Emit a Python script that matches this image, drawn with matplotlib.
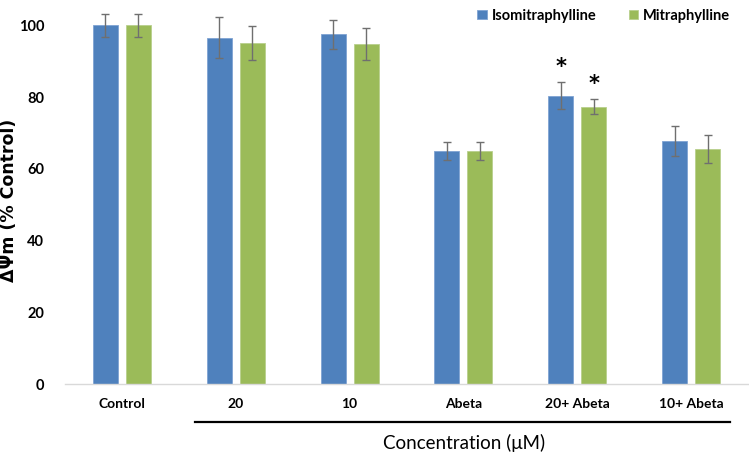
import matplotlib
matplotlib.use("Agg")
import matplotlib.pyplot as plt
import numpy as np

plt.rcParams['font.family'] = ['Lato', 'DejaVu Sans']

categories = ['Control', '20', '10', 'Abeta', '20+ Abeta', '10+ Abeta']
iso = [100, 96.6, 97.5, 64.9, 80.4, 67.8]
iso_err = [3.1, 5.7, 4.0, 2.5, 3.7, 4.2]
mit = [100, 95.1, 94.8, 64.9, 77.3, 65.5]
mit_err = [3.2, 4.8, 4.5, 2.5, 2.1, 3.9]
# groups marked significant (index of category)
star_iso = [4]
star_mit = [4]

blue = '#4f81bd'
green = '#9bbb59'

fig = plt.figure(figsize=(7.49, 4.54), dpi=100)
ax = fig.add_axes([65 / 749, 70 / 454, 683 / 749, 384 / 454])

x = np.arange(len(categories))
w = 0.22
off = 0.145
err_kw = dict(ecolor='#6f6f6f', elinewidth=1.0, capsize=3, capthick=1.0)
ax.bar(x - off, iso, w, color=blue, edgecolor='#7fa3d3', linewidth=0.6,
       yerr=iso_err, error_kw=err_kw, label='Isomitraphylline')
ax.bar(x + off, mit, w, color=green, edgecolor='#b8d08c', linewidth=0.6,
       yerr=mit_err, error_kw=err_kw, label='Mitraphylline')

for i in star_iso:
    ax.text(i - off, iso[i] + iso_err[i] + 1.6, '*', ha='center', va='bottom',
            fontsize=15, fontweight='bold', family='DejaVu Sans')
for i in star_mit:
    ax.text(i + off, mit[i] + mit_err[i] + 1.6, '*', ha='center', va='bottom',
            fontsize=15, fontweight='bold', family='DejaVu Sans')

ax.set_xlim(-0.5, 5.5)
ax.set_ylim(0, 107.1)
ax.set_yticks([0, 20, 40, 60, 80, 100])
ax.set_xticks(x)
ax.set_xticklabels(categories, fontsize=10, fontweight='bold')
for lab in ax.get_yticklabels():
    lab.set_fontsize(10.5)
    lab.set_fontweight('bold')
ax.tick_params(axis='both', length=0)
ax.tick_params(axis='y', pad=15)
ax.tick_params(axis='x', pad=10)
for s in ['top', 'right', 'left']:
    ax.spines[s].set_visible(False)
ax.spines['bottom'].set_color('#d9d9d9')
ax.spines['bottom'].set_linewidth(1.0)

fig.text(9 / 749, 1 - 200 / 454, 'ΔΨm (% Control)', rotation=90,
         ha='center', va='center', fontsize=12.5, fontweight='bold',
         family='DejaVu Sans')
fig.text(464 / 749, 1 - 443 / 454, 'Concentration (μM)', ha='center',
         va='center', fontsize=13.5)
fig.add_artist(plt.Line2D([195 / 749, 730 / 749], [1 - 422 / 454, 1 - 422 / 454],
                          color='black', linewidth=1.6))

leg = fig.legend(loc='upper left', bbox_to_anchor=(464 / 749, 1.01), ncol=2,
                 frameon=False, handlelength=0.65, handleheight=0.65,
                 handletextpad=0.35, columnspacing=2.2,
                 prop={'weight': 'bold', 'size': 10.5})

fig.savefig('out.png', dpi=100)
